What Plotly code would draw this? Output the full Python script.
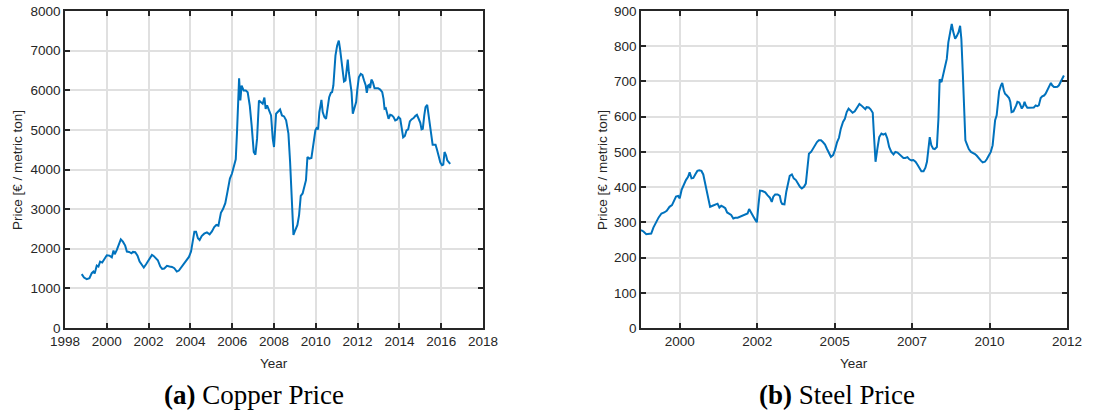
import plotly.graph_objects as go

# ---------------- data ----------------
copper_year = [1998.80, 1998.91, 1999.04, 1999.17, 1999.28, 1999.36, 1999.42, 1999.52, 1999.60, 1999.68,
               1999.78, 1999.87, 2000.00, 2000.13, 2000.24, 2000.32, 2000.38, 2000.48, 2000.59, 2000.67,
               2000.77, 2000.88, 2000.96, 2001.07, 2001.18, 2001.25, 2001.36, 2001.47, 2001.57, 2001.68,
               2001.77, 2001.88, 2002.01, 2002.16, 2002.24, 2002.35, 2002.44, 2002.56, 2002.65, 2002.75,
               2002.88, 2003.00, 2003.12, 2003.23, 2003.35, 2003.45, 2003.58, 2003.71, 2003.80, 2003.93,
               2004.03, 2004.11, 2004.19, 2004.27, 2004.36, 2004.44, 2004.54, 2004.66, 2004.79, 2004.92,
               2005.03, 2005.14, 2005.24, 2005.34, 2005.40, 2005.46, 2005.56, 2005.67, 2005.78, 2005.89,
               2005.99, 2006.07, 2006.17, 2006.23, 2006.33, 2006.39, 2006.45, 2006.55, 2006.65, 2006.74,
               2006.84, 2006.93, 2007.03, 2007.11, 2007.19, 2007.28, 2007.38, 2007.46, 2007.54, 2007.60,
               2007.67, 2007.75, 2007.86, 2007.94, 2008.00, 2008.10, 2008.21, 2008.29, 2008.38, 2008.48,
               2008.58, 2008.69, 2008.77, 2008.85, 2008.93, 2009.02, 2009.12, 2009.20, 2009.28, 2009.37,
               2009.47, 2009.53, 2009.60, 2009.69, 2009.79, 2009.88, 2009.98, 2010.04, 2010.11, 2010.17,
               2010.27, 2010.33, 2010.41, 2010.49, 2010.56, 2010.64, 2010.72, 2010.78, 2010.84, 2010.89,
               2010.94, 2011.02, 2011.10, 2011.16, 2011.23, 2011.29, 2011.35, 2011.42, 2011.48, 2011.53,
               2011.58, 2011.64, 2011.71, 2011.77, 2011.85, 2011.93, 2011.99, 2012.06, 2012.15, 2012.23,
               2012.31, 2012.39, 2012.44, 2012.50, 2012.55, 2012.60, 2012.66, 2012.73, 2012.81, 2012.89,
               2012.98, 2013.08, 2013.18, 2013.24, 2013.29, 2013.35, 2013.42, 2013.48, 2013.56, 2013.64,
               2013.72, 2013.80, 2013.88, 2013.96, 2014.04, 2014.12, 2014.18, 2014.26, 2014.34, 2014.42,
               2014.50, 2014.58, 2014.68, 2014.76, 2014.84, 2014.92, 2015.00, 2015.06, 2015.12, 2015.19,
               2015.25, 2015.33, 2015.40, 2015.46, 2015.52, 2015.59, 2015.65, 2015.73, 2015.80, 2015.88,
               2015.96, 2016.04, 2016.10, 2016.16, 2016.23, 2016.29, 2016.37, 2016.43]
copper_price = [1358, 1274, 1232, 1257, 1383, 1425, 1375, 1576, 1551, 1676,
                1651, 1743, 1836, 1827, 1785, 1953, 1861, 1970, 2112, 2238,
                2179, 2079, 1928, 1920, 1886, 1920, 1911, 1827, 1676, 1576,
                1526, 1609, 1710, 1844, 1819, 1743, 1710, 1551, 1492, 1500,
                1568, 1551, 1542, 1509, 1425, 1450, 1542, 1609, 1685, 1794,
                1928, 2179, 2431, 2431, 2263, 2221, 2322, 2381, 2414, 2364,
                2439, 2548, 2599, 2582, 2766, 2909, 3001, 3152, 3454, 3772,
                3898, 4091, 4258, 4946, 6303, 5742, 6119, 5993, 5993, 5951,
                5616, 5113, 4443, 4376, 4778, 5742, 5700, 5658, 5817, 5532,
                5616, 5515, 5365, 4778, 4568, 5407, 5465, 5515, 5365, 5340,
                5239, 4904, 4191, 3185, 2347, 2473, 2599, 2850, 3336, 3395,
                3604, 3730, 4317, 4275, 4292, 4610, 4988, 5046, 5013, 5449,
                5759, 5449, 5323, 5281, 5532, 5826, 5935, 5951, 6119, 6454,
                6873, 7125, 7251, 7041, 6706, 6496, 6220, 6245, 6496, 6773,
                6454, 6203, 5951, 5407, 5574, 5700, 6035, 6329, 6412, 6387,
                6245, 6119, 5935, 6119, 6136, 6052, 6270, 6203, 6052, 6052,
                6052, 6018, 5951, 5784, 5532, 5549, 5348, 5281, 5381, 5365,
                5323, 5239, 5256, 5323, 5281, 5029, 4811, 4845, 4987, 5013,
                5214, 5264, 5298, 5348, 5381, 5281, 5180, 5013, 5029, 5365,
                5574, 5633, 5365, 5029, 4862, 4627, 4627, 4627, 4501, 4317,
                4174, 4107, 4124, 4442, 4359, 4233, 4166, 4141]

steel_year = [1999.00, 1999.08, 1999.17, 1999.25, 1999.33, 1999.40, 1999.49, 1999.57, 1999.66, 1999.75,
              1999.83, 1999.92, 2000.00, 2000.07, 2000.13, 2000.20, 2000.25, 2000.31, 2000.39, 2000.45,
              2000.52, 2000.57, 2000.63, 2000.69, 2000.75, 2000.82, 2000.88, 2000.95, 2001.01, 2001.08,
              2001.15, 2001.23, 2001.31, 2001.40, 2001.47, 2001.53, 2001.59, 2001.66, 2001.72, 2001.78,
              2001.85, 2001.91, 2001.98, 2002.04, 2002.12, 2002.19, 2002.26, 2002.32, 2002.39, 2002.44,
              2002.49, 2002.56, 2002.63, 2002.69, 2002.74, 2002.79, 2002.84, 2002.92, 2003.01, 2003.08,
              2003.16, 2003.22, 2003.27, 2003.33, 2003.41, 2003.48, 2003.52, 2003.56, 2003.63, 2003.69,
              2003.75, 2003.80, 2003.87, 2003.93, 2004.00, 2004.06, 2004.13, 2004.19, 2004.26, 2004.32,
              2004.37, 2004.42, 2004.49, 2004.55, 2004.62, 2004.68, 2004.74, 2004.81, 2004.87, 2004.94,
              2005.00, 2005.07, 2005.13, 2005.20, 2005.26, 2005.33, 2005.39, 2005.45, 2005.52, 2005.58,
              2005.64, 2005.70, 2005.77, 2005.83, 2005.90, 2005.96, 2006.05, 2006.11, 2006.18, 2006.24,
              2006.28, 2006.35, 2006.41, 2006.48, 2006.52, 2006.57, 2006.63, 2006.69, 2006.76, 2006.82,
              2006.89, 2006.95, 2007.01, 2007.08, 2007.15, 2007.21, 2007.28, 2007.34, 2007.40, 2007.47,
              2007.53, 2007.60, 2007.66, 2007.73, 2007.79, 2007.86, 2007.92, 2007.99, 2008.05, 2008.12,
              2008.18, 2008.23, 2008.28, 2008.32, 2008.37, 2008.43, 2008.48, 2008.55, 2008.60, 2008.64,
              2008.70, 2008.75, 2008.81, 2008.87, 2008.92, 2008.98, 2009.03, 2009.08, 2009.14, 2009.19,
              2009.25, 2009.30, 2009.34, 2009.39, 2009.43, 2009.47, 2009.53, 2009.58, 2009.65, 2009.71,
              2009.78, 2009.84, 2009.90, 2009.97, 2010.03, 2010.10, 2010.16, 2010.23, 2010.29, 2010.35,
              2010.39, 2010.43, 2010.48, 2010.52, 2010.56, 2010.62, 2010.66, 2010.71, 2010.75, 2010.81,
              2010.88, 2010.92, 2010.96, 2011.02, 2011.07, 2011.11, 2011.15, 2011.21, 2011.25, 2011.29,
              2011.34, 2011.38, 2011.42, 2011.47, 2011.52, 2011.58, 2011.63, 2011.68, 2011.74, 2011.79,
              2011.84, 2011.90, 2011.95, 2012.01, 2012.06, 2012.12, 2012.17, 2012.23, 2012.27, 2012.33,
              2012.38, 2012.44, 2012.49, 2012.55, 2012.60, 2012.65]
steel_price = [278, 274, 266, 266, 268, 285, 302, 314, 325, 328,
               333, 344, 349, 363, 373, 375, 368, 392, 410, 420,
               429, 442, 425, 426, 436, 446, 448, 446, 436, 406,
               368, 344, 347, 351, 353, 342, 347, 344, 340, 328,
               323, 321, 311, 313, 313, 316, 319, 321, 323, 325,
               338, 325, 316, 307, 300, 349, 390, 389, 385, 377,
               370, 358, 373, 379, 379, 375, 358, 352, 351, 387,
               415, 432, 436, 425, 420, 410, 401, 396, 401, 410,
               453, 495, 500, 509, 519, 528, 533, 533, 528, 521,
               509, 495, 486, 491, 505, 528, 540, 566, 585, 594,
               613, 623, 618, 611, 615, 625, 636, 632, 625, 621,
               627, 626, 621, 611, 547, 472, 509, 542, 552, 549,
               552, 538, 514, 500, 493, 500, 498, 493, 489, 483,
               483, 485, 479, 476, 477, 472, 464, 455, 445, 445,
               455, 472, 509, 542, 519, 509, 508, 514, 594, 706,
               698, 722, 741, 764, 811, 840, 863, 840, 821, 828,
               840, 858, 821, 717, 613, 533, 519, 508, 500, 498,
               494, 489, 481, 475, 470, 472, 479, 489, 500, 519,
               564, 590, 604, 640, 672, 689, 696, 675, 665, 660,
               653, 642, 613, 615, 623, 632, 642, 640, 632, 623,
               630, 642, 632, 625, 625, 626, 625, 626, 632, 630,
               632, 653, 658, 660, 665, 675, 687, 696, 689, 684,
               684, 685, 689, 700, 708, 717]

copper_xticks = [1998, 2000, 2002, 2004, 2006, 2008, 2010, 2012, 2014, 2016, 2018]
copper_yticks = [0, 1000, 2000, 3000, 4000, 5000, 6000, 7000, 8000]
steel_xtick_pos = [2000.25, 2002.75, 2005.25, 2007.75, 2010.25, 2012.75]
steel_xtick_labels = ["2000", "2002", "2005", "2007", "2010", "2012"]
steel_yticks = [0, 100, 200, 300, 400, 500, 600, 700, 800, 900]

y_title = "Price [€ / metric ton]"
x_title = "Year"
captions = ["<b>(a)</b> Copper Price", "<b>(b)</b> Steel Price"]

# ---------------- figure ----------------
W, H = 1093, 412
LINE = "#0072BD"
AXC = "#262626"
GRID = "#e0e0e0"
SANS = "Liberation Sans, Arial, Helvetica, sans-serif"
SERIF = "Liberation Serif, Times New Roman, serif"

fig = go.Figure()
fig.add_trace(go.Scatter(x=copper_year, y=copper_price, mode="lines",
                         line=dict(color=LINE, width=2), xaxis="x", yaxis="y",
                         showlegend=False, hoverinfo="skip"))
fig.add_trace(go.Scatter(x=steel_year, y=steel_price, mode="lines",
                         line=dict(color=LINE, width=2), xaxis="x2", yaxis="y2",
                         showlegend=False, hoverinfo="skip"))

def px_x(p):
    return p / W

def px_y(p):
    return (H - p) / H

ydom = [px_y(328), px_y(11)]

common = dict(showline=True, linecolor=AXC, linewidth=1.5, mirror="ticks",
              ticks="inside", ticklen=5, tickwidth=1.5, tickcolor=AXC,
              showgrid=True, gridcolor=GRID, gridwidth=2, zeroline=False,
              automargin=False,
              tickfont=dict(family=SANS, size=13.5, color=AXC))

fig.update_layout(
    template="none",
    width=W, height=H,
    margin=dict(l=0, r=0, t=0, b=0, pad=0),
    paper_bgcolor="white", plot_bgcolor="white",
    xaxis=dict(domain=[px_x(65), px_x(483)], range=[1998, 2018],
               tickmode="array", tickvals=copper_xticks,
               ticktext=[str(v) for v in copper_xticks], anchor="y", **common),
    yaxis=dict(domain=ydom, range=[0, 8000], tickmode="array",
               tickvals=copper_yticks, anchor="x", **common),
    xaxis2=dict(domain=[px_x(641), px_x(1067)], range=[1999.0, 2012.75],
                tickmode="array", tickvals=steel_xtick_pos,
                ticktext=steel_xtick_labels, anchor="y2", **common),
    yaxis2=dict(domain=ydom, range=[0, 900], tickmode="array",
                tickvals=steel_yticks, anchor="x2", **common),
)

ann = []
for cx in (17, 602):
    ann.append(dict(text=y_title, x=px_x(cx), y=px_y(170), xref="paper", yref="paper",
                    xanchor="center", yanchor="middle", textangle=-90, showarrow=False,
                    font=dict(family=SANS, size=13.5, color=AXC)))
for cx in (274, 854):
    ann.append(dict(text=x_title, x=px_x(cx), y=px_y(363), xref="paper", yref="paper",
                    xanchor="center", yanchor="middle", showarrow=False,
                    font=dict(family=SANS, size=13.5, color=AXC)))
for cx, cap in zip((254, 837), captions):
    ann.append(dict(text=cap, x=px_x(cx), y=px_y(395), xref="paper", yref="paper",
                    xanchor="center", yanchor="middle", showarrow=False,
                    font=dict(family=SERIF, size=27, color="#000000")))
fig.update_layout(annotations=ann)

fig.write_html("out.html")
